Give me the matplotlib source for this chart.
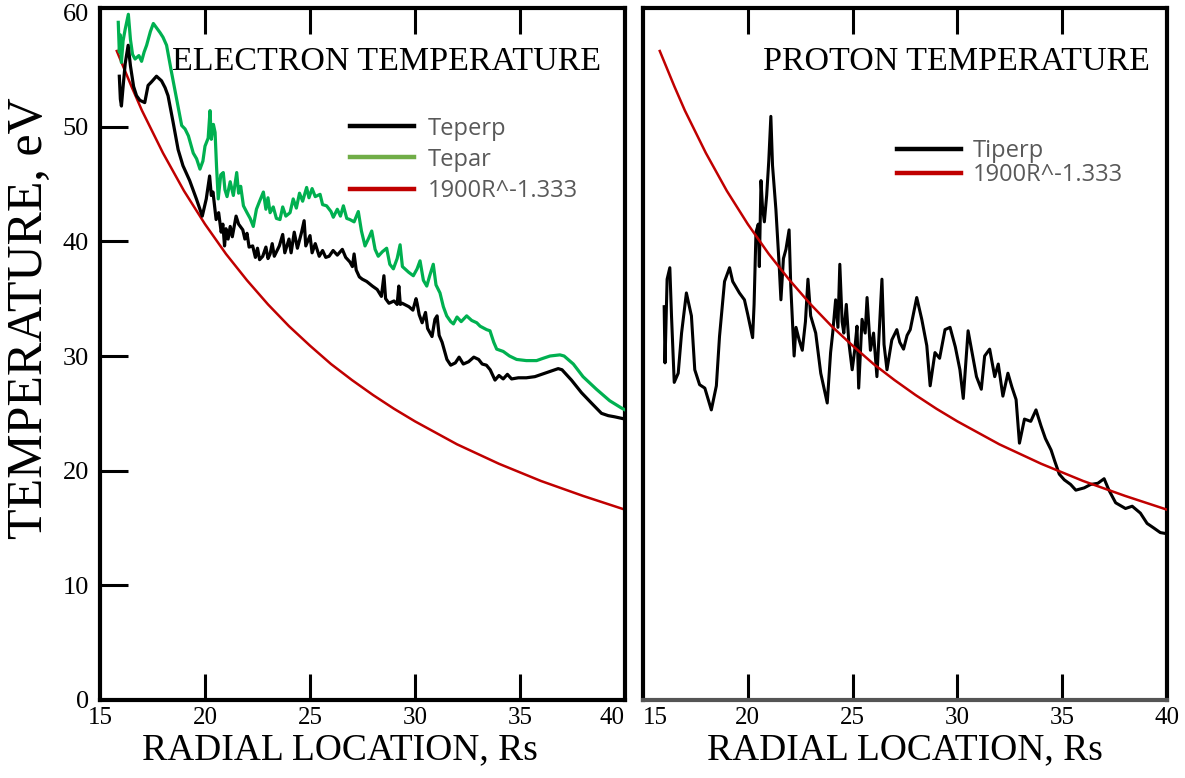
import matplotlib
matplotlib.use("Agg")
from matplotlib import pyplot as plt
from matplotlib.lines import Line2D

# electron panel, black (Teperp)
te_perp_r = [15.92, 15.97, 16.02, 16.1, 16.2, 16.34, 16.45, 16.6, 16.74, 16.9, 17.13, 17.29, 17.45, 17.69, 17.93,
             18.1, 18.24, 18.48, 18.72, 18.95, 19.27, 19.59, 19.87, 20.06, 20.22, 20.3, 20.38, 20.53, 20.65, 20.77,
             20.85, 20.93, 21.0, 21.1, 21.2, 21.3, 21.48, 21.6, 21.8, 21.9, 22.0, 22.1, 22.27, 22.4, 22.5, 22.6,
             22.75, 22.9, 23.0, 23.1, 23.2, 23.3, 23.54, 23.7, 23.8, 24.0, 24.1, 24.25, 24.4, 24.6, 24.72, 24.8,
             25.0, 25.1, 25.25, 25.44, 25.6, 25.75, 25.91, 26.1, 26.3, 26.54, 26.7, 26.9, 27.02, 27.1, 27.2, 27.35,
             27.49, 27.7, 27.97, 28.2, 28.4, 28.52, 28.6, 28.76, 29.0, 29.15, 29.23, 29.3, 29.39, 29.71, 29.9,
             30.05, 30.1, 30.2, 30.34, 30.5, 30.6, 30.81, 30.95, 31.05, 31.15, 31.29, 31.52, 31.7, 31.92, 32.1,
             32.3, 32.55, 32.8, 33.03, 33.2, 33.4, 33.58, 33.81, 34.0, 34.2, 34.4, 34.6, 34.92, 35.3, 35.71, 36.19,
             36.5, 36.82, 37.0, 37.45, 37.93, 38.4, 38.88, 39.2, 39.5, 40.0]
te_perp_t = [54.4, 52.4, 51.8, 53.5, 55.5, 57.1, 55.3, 53.5, 52.7, 52.3, 52.1, 53.6, 53.9, 54.4, 54.0,
             53.4, 52.7, 50.4, 48.0, 46.6, 45.3, 43.7, 42.2, 43.7, 45.7, 44.0, 44.3, 41.9, 42.5, 40.8,
             41.5, 39.6, 41.1, 40.2, 41.3, 40.4, 42.2, 41.5, 41.0, 40.2, 40.7, 39.5, 39.6, 38.6, 39.4, 38.4,
             38.7, 39.5, 38.5, 38.9, 39.8, 38.7, 39.6, 40.6, 39.0, 40.2, 39.0, 40.8, 39.4, 40.8, 41.8, 39.6,
             40.5, 39.0, 39.8, 38.7, 39.2, 38.6, 38.7, 39.2, 38.8, 39.3, 38.6, 38.2, 37.8, 38.9, 37.5, 36.9,
             36.7, 36.5, 36.1, 35.8, 35.2, 37.0, 35.0, 34.6, 34.8, 34.5, 36.1, 34.5, 34.6, 34.3, 34.0,
             35.0, 34.6, 33.6, 32.9, 33.8, 32.4, 31.7, 33.2, 33.5, 31.8, 31.2, 29.7, 29.2, 29.4, 29.9,
             29.3, 29.5, 29.9, 29.7, 29.3, 29.2, 28.8, 27.9, 28.3, 28.0, 28.4, 28.0, 28.1, 28.1, 28.2, 28.5,
             28.7, 28.9, 28.8, 27.9, 26.8, 25.9, 25.0, 24.8, 24.7, 24.5]

# electron panel, green (Tepar)
te_par_r = [15.87, 15.92, 15.97, 16.02, 16.1, 16.2, 16.35, 16.45, 16.55, 16.67, 16.85, 16.98, 17.1, 17.22, 17.4,
            17.54, 17.7, 17.86, 18.0, 18.17, 18.41, 18.65, 18.89, 19.05, 19.21, 19.44, 19.6, 19.76, 19.9, 20.0,
            20.15, 20.24, 20.3, 20.4, 20.48, 20.55, 20.63, 20.75, 20.87, 20.95, 21.05, 21.2, 21.35, 21.51, 21.6,
            21.7, 21.83, 22.0, 22.15, 22.3, 22.45, 22.6, 22.78, 22.9, 23.0, 23.1, 23.25, 23.4, 23.57, 23.7, 23.85,
            24.05, 24.2, 24.35, 24.5, 24.65, 24.84, 24.95, 25.1, 25.25, 25.48, 25.6, 25.79, 26.0, 26.11, 26.3,
            26.45, 26.59, 26.75, 26.9, 27.1, 27.3, 27.45, 27.62, 27.8, 27.94, 28.1, 28.25, 28.45, 28.65, 28.8,
            28.97, 29.15, 29.29, 29.4, 29.52, 29.7, 29.92, 30.1, 30.24, 30.4, 30.56, 30.7, 30.87, 31.0, 31.19,
            31.35, 31.51, 31.7, 31.83, 32.0, 32.2, 32.46, 32.7, 32.94, 33.1, 33.41, 33.57, 33.75, 33.89, 34.2,
            34.5, 34.84, 35.3, 35.79, 36.1, 36.43, 36.9, 37.1, 37.54, 38.0, 38.64, 39.27, 39.8, 40.0]
te_par_t = [59.1, 56.5, 58.0, 55.6, 57.5, 58.5, 59.8, 57.6, 56.3, 55.9, 56.2, 55.7, 56.5, 57.1, 58.3,
            59.0, 58.6, 58.2, 57.8, 57.1, 54.7, 52.4, 50.1, 49.8, 49.2, 47.7, 47.2, 46.3, 47.0, 48.3,
            49.0, 51.4, 48.9, 50.2, 49.5, 46.5, 43.7, 45.8, 46.0, 44.5, 43.9, 45.2, 44.0, 46.0, 44.2,
            44.8, 43.1, 42.5, 42.0, 41.3, 42.8, 43.5, 44.3, 42.8, 43.8, 42.5, 43.0, 42.0, 41.9, 43.0, 42.2,
            42.5, 43.7, 42.9, 44.2, 43.5, 44.7, 43.8, 44.6, 43.9, 44.1, 43.2, 43.1, 42.6, 42.1, 42.8,
            42.2, 43.1, 42.0, 41.9, 41.7, 42.6, 40.9, 39.6, 40.3, 40.9, 39.3, 38.7, 39.1, 39.4, 38.0,
            37.6, 38.5, 39.7, 37.8, 37.6, 37.3, 37.0, 37.6, 38.3, 36.6, 36.1, 37.0, 38.0, 36.2, 35.5,
            34.3, 33.5, 33.0, 32.8, 33.4, 33.0, 33.5, 33.1, 32.9, 32.6, 32.3, 32.2, 31.2, 30.6, 30.4,
            30.0, 29.7, 29.6, 29.6, 29.8, 30.0, 30.1, 30.0, 29.3, 28.2, 27.1, 26.1, 25.5, 25.3]

# proton panel, black (Tiperp)
ti_perp_r = [16.01, 16.05, 16.15, 16.28, 16.36, 16.49, 16.68, 16.84, 17.07, 17.31, 17.47, 17.7, 17.95, 18.26, 18.5,
             18.65, 18.89, 19.13, 19.28, 19.6, 19.84, 20.0, 20.23, 20.3, 20.39, 20.5, 20.55, 20.63, 20.7, 20.79,
             20.9, 21.0, 21.1, 21.18, 21.34, 21.5, 21.58, 21.7, 21.82, 21.97, 22.05, 22.21, 22.3, 22.45, 22.6,
             22.75, 22.87, 23.0, 23.24, 23.48, 23.79, 23.95, 24.05, 24.19, 24.3, 24.39, 24.5, 24.58, 24.7, 24.82,
             24.98, 25.1, 25.21, 25.29, 25.45, 25.6, 25.69, 25.85, 26.0, 26.16, 26.4, 26.5, 26.64, 26.87, 27.11,
             27.25, 27.43, 27.6, 27.75, 28.06, 28.3, 28.54, 28.7, 28.93, 29.15, 29.41, 29.65, 29.9, 30.12, 30.28,
             30.51, 30.7, 30.91, 31.14, 31.3, 31.54, 31.78, 31.95, 32.17, 32.41, 32.6, 32.8, 32.96, 33.2, 33.5,
             33.75, 33.99, 34.2, 34.47, 34.65, 34.86, 35.1, 35.4, 35.65, 36.05, 36.36, 36.7, 37.0, 37.23, 37.55,
             38.02, 38.34, 38.73, 39.05, 39.37, 39.68, 40.0]
ti_perp_t = [34.3, 29.4, 36.7, 37.7, 33.5, 27.7, 28.5, 32.0, 35.5, 33.5, 28.8, 27.5, 27.2, 25.3, 27.4,
             31.7, 36.5, 37.7, 36.5, 35.5, 34.9, 33.6, 31.6, 34.5, 40.8, 41.5, 37.8, 45.3, 43.0, 41.7,
             44.0, 47.0, 50.9, 46.6, 42.8, 37.8, 34.9, 38.5, 39.3, 41.0, 36.1, 30.0, 32.5, 31.4, 30.5,
             33.0, 36.7, 33.5, 32.0, 28.5, 25.9, 30.3, 32.0, 34.9, 32.5, 38.0, 33.0, 32.0, 34.5, 31.2,
             28.8, 30.5, 32.6, 27.2, 33.2, 32.0, 35.1, 30.5, 32.0, 28.2, 36.7, 31.0, 28.8, 31.4, 32.3,
             31.2, 30.6, 31.8, 32.3, 35.1, 33.2, 30.9, 27.4, 30.3, 29.8, 32.3, 32.5, 30.8, 28.8, 26.3,
             32.2, 30.3, 28.2, 27.1, 30.0, 30.6, 28.2, 29.3, 26.5, 28.5, 27.3, 26.2, 22.4, 24.5, 24.3,
             25.3, 23.9, 22.8, 21.8, 20.8, 19.7, 19.2, 18.8, 18.3, 18.5, 18.8, 18.9, 19.3, 18.3, 17.2,
             16.7, 16.9, 16.3, 15.4, 15.0, 14.6, 14.5]

# 1900R^-1.333 curve as drawn
fit_r = [15.8, 16.5, 17, 18, 19, 20, 21, 22, 23, 24, 25, 26, 27, 28, 29, 30, 32, 34, 36, 38, 40]
fit_t = [56.6, 53.5, 51.4, 47.7, 44.4, 41.5, 38.9, 36.6, 34.5, 32.6, 30.9, 29.3, 27.9, 26.6, 25.4, 24.3,
         22.3, 20.6, 19.1, 17.8, 16.6]

xticks = [15, 20, 25, 30, 35, 40]
yticks = [0, 10, 20, 30, 40, 50, 60]

serif = "Liberation Serif"
green = "#00b050"
red = "#c00000"

fig = plt.figure(figsize=(11.85, 7.78), dpi=100)
W, H = 1185.0, 778.0
ax1 = fig.add_axes([100 / W, 78 / H, 525 / W, 692 / H])
ax2 = fig.add_axes([643 / W, 78 / H, 524 / W, 692 / H])

ax1.plot(fit_r, fit_t, color=red, lw=1.8, zorder=2)
ax1.plot(te_par_r, te_par_t, color=green, lw=2.3, zorder=3)
ax1.plot(te_perp_r, te_perp_t, color="black", lw=2.3, zorder=4)

ax2.plot(ti_perp_r, ti_perp_t, color="black", lw=2.2, zorder=3)
ax2.plot(fit_r, fit_t, color=red, lw=1.8, zorder=4)

for ax in (ax1, ax2):
    ax.set_xlim(15, 40)
    ax.set_ylim(0, 60.35)
    for s in ax.spines.values():
        s.set_linewidth(3)
    ax.set_xticks(xticks)
    ax.set_xticklabels([str(v) for v in xticks], fontfamily=serif, fontsize=18)
    ax.tick_params(axis="x", direction="in", length=19, width=2.2, top=True, bottom=True, pad=5)
    # hide tick marks at the corners
    for t in ax.xaxis.get_major_ticks():
        if t.get_loc() in (15, 40):
            t.tick1line.set_visible(False)
            t.tick2line.set_visible(False)

ax1.set_yticks(yticks)
ax1.set_yticklabels([str(v) for v in yticks], fontfamily=serif, fontsize=19)
ax1.tick_params(axis="y", direction="in", length=20, width=2.2, left=True, right=False, pad=8)
for t in ax1.yaxis.get_major_ticks():
    if t.get_loc() in (0, 60):
        t.tick1line.set_visible(False)
ax1.get_xticklabels()[-1].set_ha("right")

ax2.set_yticks(yticks)
ax2.tick_params(axis="y", direction="in", length=20, width=2.2, left=False, right=True,
                labelleft=False, labelright=False)
for t in ax2.yaxis.get_major_ticks():
    if t.get_loc() in (0, 60):
        t.tick2line.set_visible(False)
ax2.get_xticklabels()[0].set_ha("left")
ax2.spines["bottom"].set_color("#555555")

ax1.text(0.955, 0.922, "ELECTRON TEMPERATURE", transform=ax1.transAxes, ha="right", va="center",
         fontfamily=serif, fontsize=24.5)
ax2.text(0.968, 0.922, "PROTON TEMPERATURE", transform=ax2.transAxes, ha="right", va="center",
         fontfamily=serif, fontsize=24.5)

leg_font = {"family": "Open Sans", "size": 17}
h1 = [Line2D([], [], color="black", lw=3.2),
      Line2D([], [], color="#70ad47", lw=3.2),
      Line2D([], [], color=red, lw=3.2)]
ax1.legend(h1, ["Teperp", "Tepar", "1900R^-1.333"], loc="upper left", bbox_to_anchor=(0.476, 0.843),
           frameon=False, prop=leg_font, labelcolor="#595959", handlelength=2.7, handletextpad=0.6,
           labelspacing=0.3, borderpad=0, borderaxespad=0)
h2 = [Line2D([], [], color="black", lw=3.2),
      Line2D([], [], color=red, lw=3.2)]
ax2.legend(h2, ["Tiperp", "1900R^-1.333"], loc="upper left", bbox_to_anchor=(0.485, 0.811),
           frameon=False, prop=leg_font, labelcolor="#595959", handlelength=2.7, handletextpad=0.5,
           labelspacing=0.0, borderpad=0, borderaxespad=0)

fig.text(30 / W, 1 - 318 / H, "TEMPERATURE, eV", rotation=90, ha="center", va="center",
         fontfamily=serif, fontsize=36)
fig.text(340 / W, 1 - 733 / H, "RADIAL LOCATION, Rs", ha="center", va="top",
         fontfamily=serif, fontsize=27)
fig.text(905 / W, 1 - 733 / H, "RADIAL LOCATION, Rs", ha="center", va="top",
         fontfamily=serif, fontsize=27)

fig.savefig("out.png", dpi=100)
